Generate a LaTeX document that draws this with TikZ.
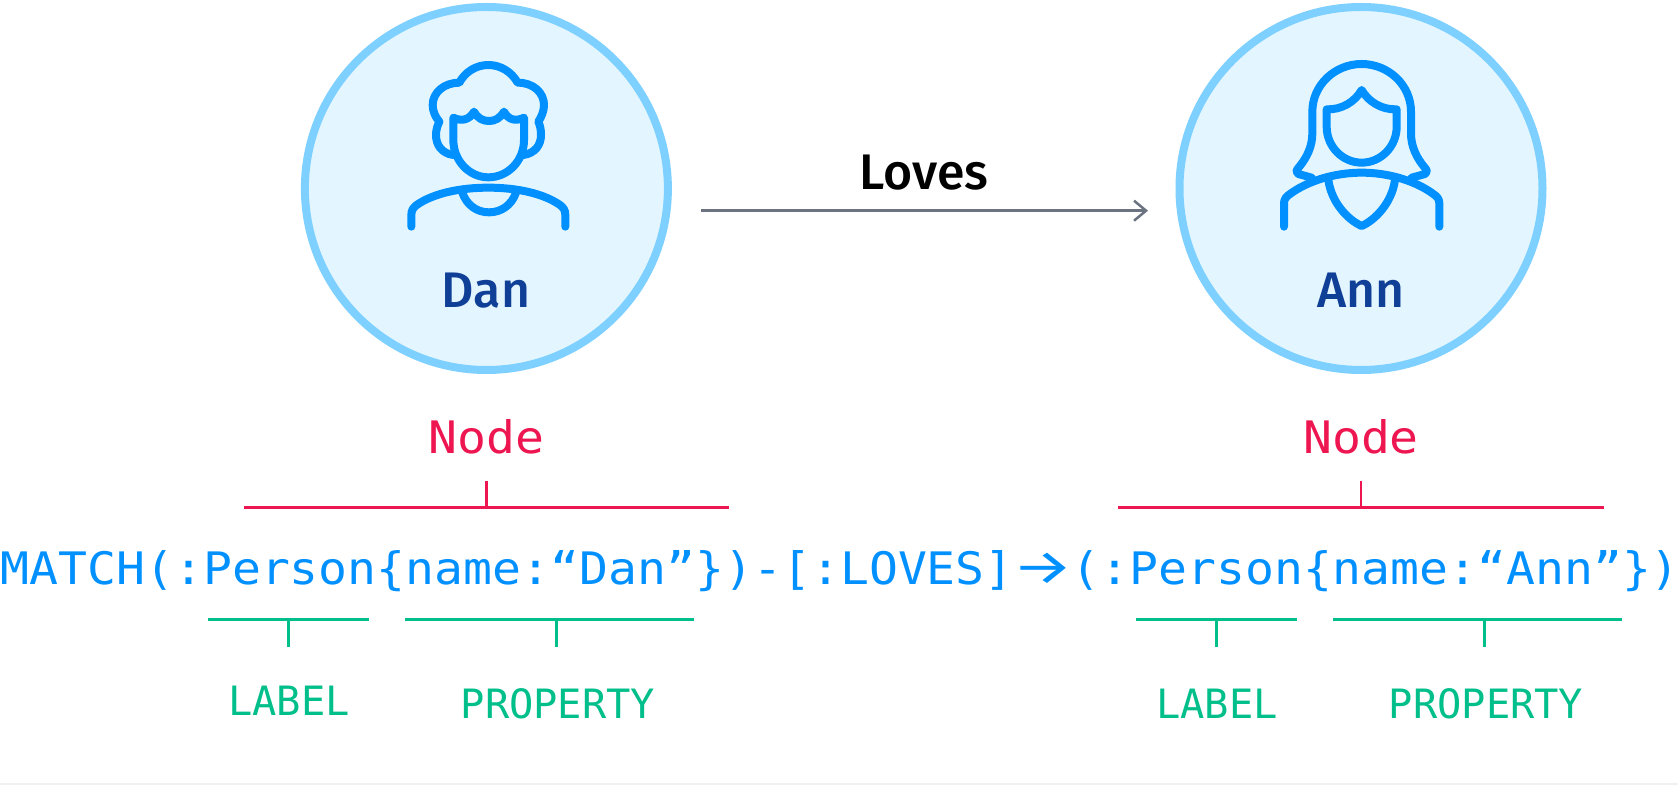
\documentclass[tikz,border=0pt]{standalone}
\usepackage{fontspec}
\usepackage{graphicx}
\usetikzlibrary{arrows.meta}
\setmainfont{Fira Sans}[BoldFont={Fira Sans Medium}]
\newfontfamily\codef{DejaVu Sans Mono}
\newcommand{\squash}[1]{\scalebox{1}[0.93]{#1}}
\definecolor{ringc}{HTML}{7DD0FF}
\definecolor{fillc}{HTML}{E3F6FF}
\definecolor{iconc}{HTML}{0090FF}
\definecolor{namec}{HTML}{0F3F96}
\definecolor{redc}{HTML}{EE1651}
\definecolor{greenc}{HTML}{00BF8A}
\definecolor{grayc}{HTML}{6B7280}
\tikzset{
  person/.style={circle,draw=ringc,fill=fillc,line width=4pt,minimum size=181.5pt,inner sep=0pt},
  iconline/.style={draw=iconc,line width=4pt,line cap=round,line join=round},
  iconscope/.style={x=0.16667pt,y=-0.16667pt},
  namelabel/.style={font=\bfseries\fontsize{25pt}{25pt}\selectfont,text=namec,inner sep=0pt,anchor=base},
  codetext/.style={font=\codef\fontsize{24.05pt}{24.05pt}\selectfont,text=iconc,inner sep=0pt,anchor=base west},
  nodetext/.style={font=\codef\fontsize{24.05pt}{24.05pt}\selectfont,text=redc,inner sep=0pt,anchor=base},
  kindtext/.style={font=\codef\fontsize{20.2pt}{20.2pt}\selectfont,text=greenc,inner sep=0pt,anchor=base},
  redline/.style={draw=redc,line width=1.4pt},
  greenline/.style={draw=greenc,line width=1.4pt},
  relline/.style={draw=grayc,line width=1.25pt,-{Straight Barb[length=6pt,width=10pt,line width=1.25pt]}},
}
\begin{document}
\begin{tikzpicture}[x=0.5pt,y=-0.5pt]
\useasboundingbox (0,0) rectangle (1678,785);
\fill[white] (0,0) rectangle (1678,785);
\fill[black!6] (0,783) rectangle (1678,785);
% people
\node[person] (dan) at (486.4,188.5) {};
\node[person] (ann) at (1361,188.5) {};
\node[namelabel] (danname) at (486,307.7) {Dan};
\node[namelabel] (annname) at (1361,307.7) {Ann};
% Dan icon
\begin{scope}[xshift=185pt,yshift=-20pt,iconscope]
\draw[iconline] (250,345) .. controls (215,340) and (198,315) .. (198,285)
  .. controls (198,268) and (203,256) .. (208,245)
  .. controls (195,230) and (188,212) .. (188,195)
  .. controls (188,158) and (222,128) .. (268,128)
  .. controls (285,96) and (318,75) .. (355,75)
  .. controls (392,75) and (425,96) .. (443,128)
  .. controls (490,128) and (522,158) .. (522,195)
  .. controls (522,212) and (515,230) .. (505,245)
  .. controls (510,256) and (513,268) .. (513,285)
  .. controls (513,315) and (495,340) .. (460,345);
\draw[iconline] (250,233) -- (250,300)
  .. controls (250,362) and (298,412) .. (355,412)
  .. controls (414,412) and (462,362) .. (462,300) -- (462,233)
  .. controls (437,245) and (415,240) .. (402,215)
  .. controls (390,235) and (375,243) .. (357,243)
  .. controls (338,243) and (323,235) .. (312,215)
  .. controls (298,240) and (275,245) .. (250,233) -- cycle;
\draw[iconline] (124,560) -- (124,525) .. controls (124,510) and (130,503) .. (140,495)
  .. controls (190,460) and (270,443) .. (355,443)
  .. controls (440,443) and (520,460) .. (570,495)
  .. controls (580,503) and (586,510) .. (586,525) -- (586,560);
\draw[iconline] (277,458) .. controls (290,495) and (320,517) .. (357,517)
  .. controls (394,517) and (425,495) .. (438,458);
\end{scope}
% Ann icon
\begin{scope}[xshift=635pt,yshift=-20pt,iconscope]
\draw[iconline] (125,413) -- (85,402) .. controls (78,398) and (78,392) .. (84,385)
  .. controls (112,352) and (127,318) .. (127,280) -- (127,215)
  .. controls (127,135) and (195,72) .. (275,72)
  .. controls (355,72) and (423,135) .. (423,215) -- (423,280)
  .. controls (423,318) and (438,352) .. (466,385)
  .. controls (472,392) and (472,398) .. (465,402) -- (425,413);
\draw[iconline] (170,208) -- (170,260)
  .. controls (170,320) and (218,368) .. (275,368)
  .. controls (332,368) and (380,320) .. (380,260) -- (380,208)
  .. controls (335,210) and (295,185) .. (275,150)
  .. controls (255,185) and (215,210) .. (170,208) -- cycle;
\draw[iconline] (42,560) -- (42,490) .. controls (42,478) and (48,470) .. (60,462)
  .. controls (110,425) and (190,398) .. (275,398)
  .. controls (360,398) and (440,425) .. (490,462)
  .. controls (502,470) and (508,478) .. (508,490) -- (508,560);
\draw[iconline] (175,420) .. controls (185,490) and (235,540) .. (275,558)
  .. controls (315,540) and (365,490) .. (375,420);
\end{scope}
% relationship
\node[namelabel,text=black] (loves) at (924,190) {Loves};
\coordinate (relstart) at (701,210.7);
\coordinate (relend) at (1148,210.7);
\draw[relline] (relstart) -- (relend);
% node brackets
\node[nodetext] (nodeA) at (486.4,454) {\squash{Node}};
\node[nodetext] (nodeB) at (1361,454) {\squash{Node}};
\coordinate (ra1) at (243.6,507.7); \coordinate (ra2) at (729,507.7);
\coordinate (rat) at (486.4,480.7); \coordinate (ram) at (486.4,507.7);
\draw[redline] (ra1) -- (ra2); \draw[redline] (rat) -- (ram);
\coordinate (rb1) at (1118.1,507.7); \coordinate (rb2) at (1603.5,507.7);
\coordinate (rbt) at (1360.9,480.7); \coordinate (rbm) at (1360.9,507.7);
\draw[redline] (rb1) -- (rb2); \draw[redline] (rbt) -- (rbm);
% code
\node[codetext] (code) at (0,585) {\squash{MATCH(:Person\{name:“Dan”\})-[:LOVES]\makebox[2\fontcharwd\font`M]{\rmfamily\scalebox{1.42}[1.1]{→}}(:Person\{name:“Ann”\})}};
% green brackets
\coordinate (ga1) at (207.6,619.7); \coordinate (ga2) at (369,619.7);
\coordinate (gat) at (288.4,619.7); \coordinate (gab) at (288.4,646.7);
\draw[greenline] (ga1) -- (ga2); \draw[greenline] (gat) -- (gab);
\coordinate (gb1) at (405.3,619.7); \coordinate (gb2) at (693.7,619.7);
\coordinate (gbt) at (556.5,619.7); \coordinate (gbb) at (556.5,646.7);
\draw[greenline] (gb1) -- (gb2); \draw[greenline] (gbt) -- (gbb);
\coordinate (gc1) at (1135.6,619.7); \coordinate (gc2) at (1297,619.7);
\coordinate (gct) at (1216.4,619.7); \coordinate (gcb) at (1216.4,646.7);
\draw[greenline] (gc1) -- (gc2); \draw[greenline] (gct) -- (gcb);
\coordinate (gd1) at (1333.3,619.7); \coordinate (gd2) at (1621.7,619.7);
\coordinate (gdt) at (1484.5,619.7); \coordinate (gdb) at (1484.5,646.7);
\draw[greenline] (gd1) -- (gd2); \draw[greenline] (gdt) -- (gdb);
\node[kindtext] (labelA) at (289,715.7) {LABEL};
\node[kindtext] (propA) at (558,718.7) {PROPERTY};
\node[kindtext] (labelB) at (1217,718.7) {LABEL};
\node[kindtext] (propB) at (1486,718.7) {PROPERTY};
\end{tikzpicture}
\end{document}
